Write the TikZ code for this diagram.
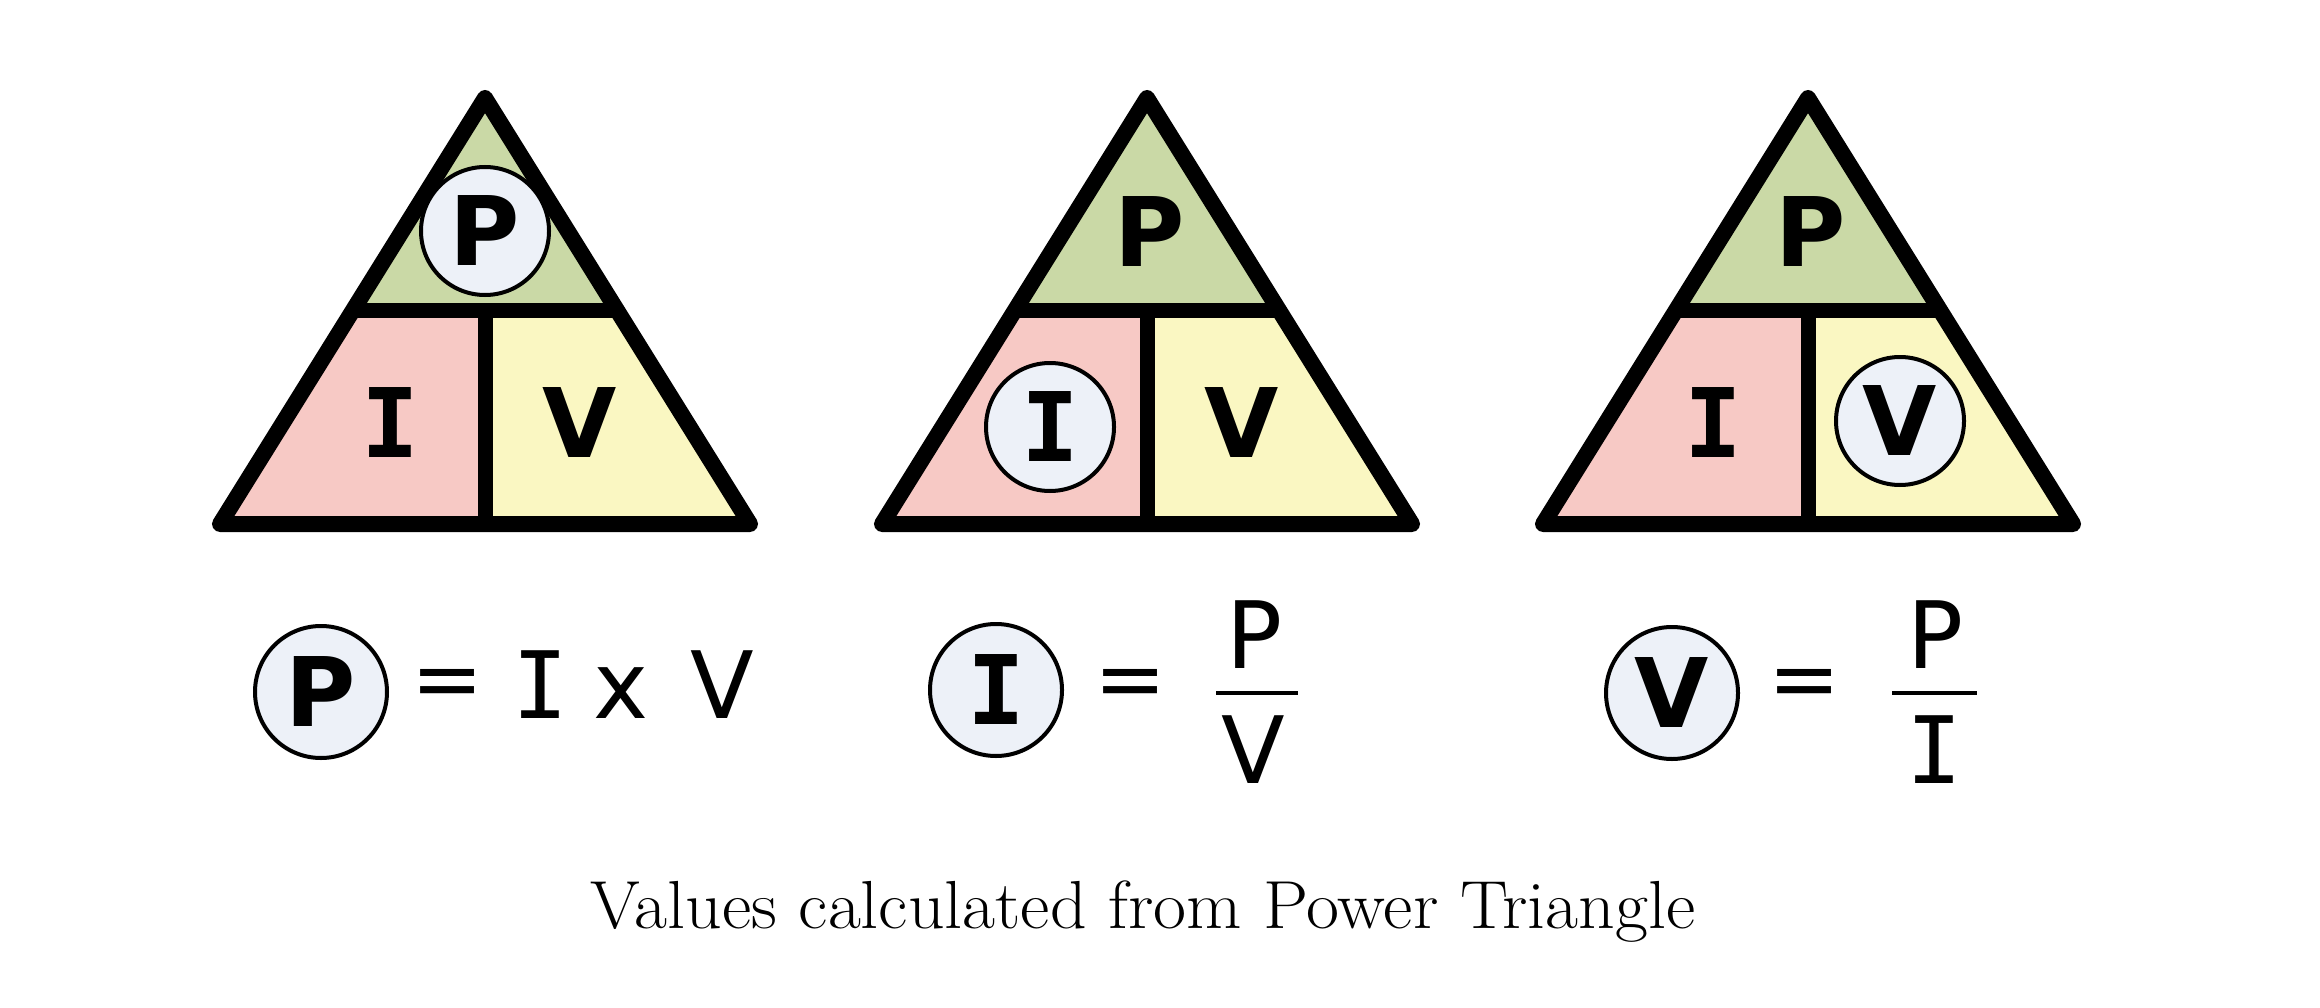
\documentclass[tikz,border=0pt]{standalone}
\usepackage{fontspec}
\newfontfamily\lettf{DejaVu Sans Mono}
\newfontfamily\sansf{DejaVu Sans}
\definecolor{topg}{HTML}{CAD9A6}
\definecolor{leftp}{HTML}{F7C9C5}
\definecolor{righty}{HTML}{FAF7C2}
\definecolor{ringfill}{HTML}{EDF1F8}
\newcommand\powertri[2]{% #1 centre x, #2 name prefix
  \coordinate (#2apex) at (#1,98);
  \coordinate (#2bl) at (#1-265,524);
  \coordinate (#2br) at (#1+265,524);
  \coordinate (#2ml) at (#1-132.2,310.5);
  \coordinate (#2mr) at (#1+132.2,310.5);
  \coordinate (#2mc) at (#1,310.5);
  \coordinate (#2bc) at (#1,524);
  \fill[topg] (#2apex) -- (#2ml) -- (#2mr) -- cycle;
  \fill[leftp] (#2ml) -- (#2mc) -- (#2bc) -- (#2bl) -- cycle;
  \fill[righty] (#2mc) -- (#2mr) -- (#2br) -- (#2bc) -- cycle;
  \draw[edge] (#2apex) -- (#2bl) -- (#2br) -- cycle;
  \draw[divider] (#2ml) -- (#2mr);
  \draw[divider] (#2mc) -- (#2bc);
}
\begin{document}
\begin{tikzpicture}[x=1pt,y=-1pt,
  edge/.style={line width=16pt, line join=round, line cap=round},
  divider/.style={line width=15pt},
  ring/.style={circle, draw, line width=4pt, fill=ringfill, minimum size=#1, inner sep=0pt},
  ring/.default=128pt,
  bigletter/.style={font=\sansf\bfseries\fontsize{96}{96}\selectfont, inner sep=0pt},
  bigserif/.style={font=\lettf\bfseries\fontsize{96}{96}\selectfont, inner sep=0pt},
  smallletter/.style={font=\sansf\fontsize{93}{93}\selectfont, inner sep=0pt},
  smallserif/.style={font=\lettf\fontsize{93}{93}\selectfont, inner sep=0pt},
  eqsign/.style={font=\sansf\fontsize{86}{86}\selectfont, inner sep=0pt},
  fracbar/.style={line width=3.5pt},
  caption/.style={font=\fontsize{68}{68}\selectfont, inner sep=0pt}]
\fill[white] (0,0) rectangle (2320,1008);
\useasboundingbox (0,0) rectangle (2320,1008);

% triangle 1 (P highlighted)
\powertri{485}{a}
\node[ring, bigletter] (aP) at (485,231) {P};
\node[bigserif] (aI) at (390,423) {I};
\node[bigletter] (aV) at (580,423) {V};

% triangle 2 (I highlighted)
\powertri{1147}{b}
\node[bigletter] (bP) at (1150,232) {P};
\node[ring, bigserif] (bI) at (1050,427) {I};
\node[bigletter] (bV) at (1242,423) {V};

% triangle 3 (V highlighted)
\powertri{1808}{c}
\node[bigletter] (cP) at (1811,232) {P};
\node[bigserif] (cI) at (1713,423) {I};
\node[ring, bigletter] (cV) at (1900,421) {V};

% formula 1
\node[ring=132pt, bigletter] (fP) at (321,692) {P};
\node[eqsign] (fEq) at (448,689) {=};
\node[smallserif, anchor=base] (fI) at (540,718) {I};
\node[smallletter, anchor=base] (fX) at (621,718) {x};
\node[smallletter, anchor=base] (fV) at (722,718) {V};

% formula 2
\node[ring=132pt, bigserif] (gI) at (996,690) {I};
\node[eqsign] (gEq) at (1131,689) {=};
\node[smallletter, anchor=base] (gP) at (1255,668) {P};
\coordinate (gbl) at (1216,693);
\coordinate (gbr) at (1298,693);
\draw[fracbar] (gbl) -- (gbr);
\node[smallletter, anchor=base] (gV) at (1253,783) {V};

% formula 3
\node[ring=132pt, bigletter] (hV) at (1672,693) {V};
\node[eqsign] (hEq) at (1805,689) {=};
\node[smallletter, anchor=base] (hP) at (1936,668) {P};
\coordinate (hbl) at (1892,693);
\coordinate (hbr) at (1977,693);
\draw[fracbar] (hbl) -- (hbr);
\node[smallserif, anchor=base] (hI) at (1934,783) {I};

% caption
\node[caption, anchor=base] (cap) at (1143,928) {\scalebox{1.055}[1]{Values calculated from Power Triangle}};
\end{tikzpicture}
\end{document}
